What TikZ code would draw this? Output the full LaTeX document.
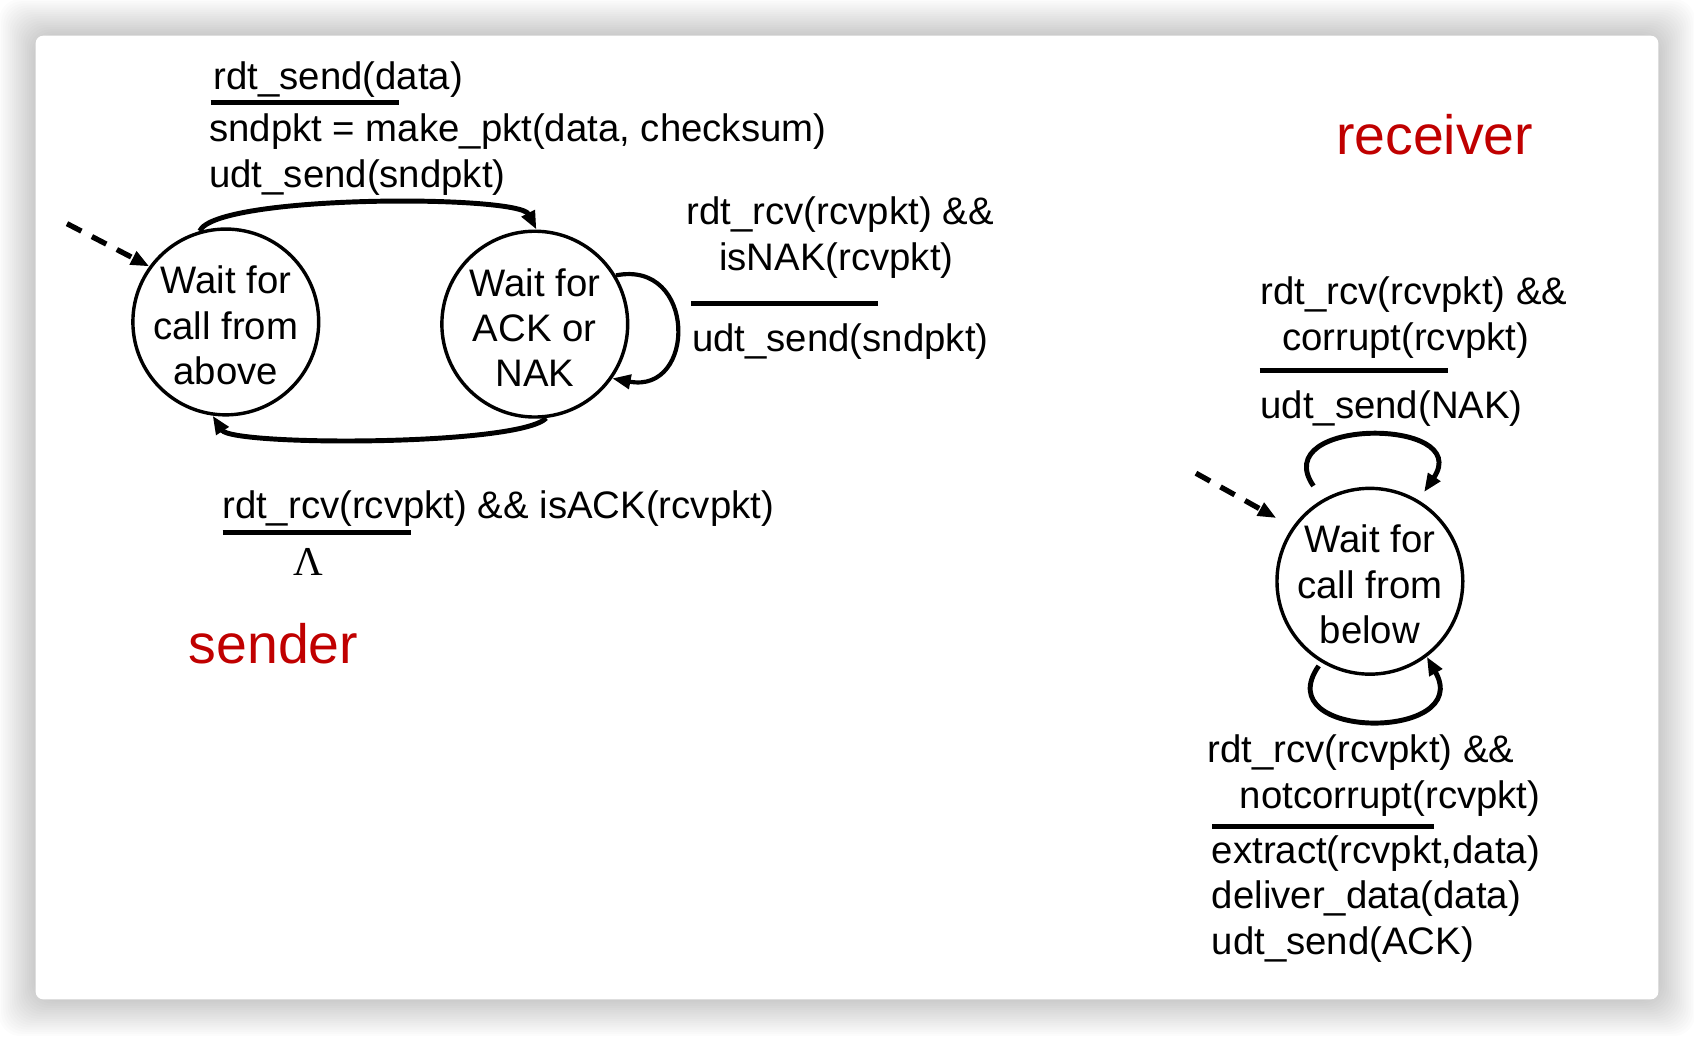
\documentclass[tikz,border=0pt]{standalone}
\usepackage{fontspec}
\setmainfont{Liberation Sans}
\newfontfamily\lamfont{Liberation Serif}
\usetikzlibrary{arrows.meta,positioning}
\definecolor{tagred}{HTML}{C00000}

\begin{document}
\begin{tikzpicture}[
  x=0.1mm, y=-0.1mm,
  font={\fontsize{10.1}{11.95}\selectfont},
  state/.style={circle, draw, line width=0.9pt, minimum size=17.2mm,
                inner sep=-2mm, align=center},
  lbl/.style={anchor=west, inner sep=0pt, align=left, yshift=-0.4mm},
  tag/.style={anchor=west, inner sep=0pt, text=tagred,
              font={\fontsize{14.6}{17}\selectfont}},
  bar/.style={line width=1.4pt},
  arr/.style={-{Triangle[length=1.7mm,width=1.3mm]}, line width=1.3pt},
  init/.style={-{Triangle[length=1.7mm,width=1.3mm]}, line width=1.4pt,
               dash pattern=on 1.5mm off 1.1mm}]
  \useasboundingbox (0,0) rectangle (1568,959);
  \fill[white] (0,0) rectangle (1568,959);
  \foreach \k in {1,...,17}
    \fill[black, opacity=0.012, rounded corners=2mm]
      (33-2*\k,33-2*\k) rectangle (1535+2*\k,925+2*\k);
  \fill[white, rounded corners=0.7mm] (33,33) rectangle (1535,925);
  \node[state] (above) at (209,298) {\rule{0pt}{3.2mm}Wait for\\call from\\above};
  \node[state] (acknak) at (495,300) {\rule{0pt}{3.2mm}Wait for\\ACK or\\NAK};
  \node[state] (below) at (1268,538) {\rule{0pt}{3.2mm}Wait for\\call from\\below};
  \node[lbl] (sndev) at (197,70) {rdt\_send(data)};
  \draw[bar] (195,95) -- (369,95);
  \node[lbl] (sndact) at (193,139) {sndpkt = make\_pkt(data, checksum)\\udt\_send(sndpkt)};
  \node[lbl] (nakev) at (635,216) {rdt\_rcv(rcvpkt) \&\&\\\hspace*{3mm}isNAK(rcvpkt)};
  \draw[bar] (640,281) -- (813,281);
  \node[lbl] (nakact) at (640,312) {udt\_send(sndpkt)};
  \node[lbl] (ackev) at (205,467) {rdt\_rcv(rcvpkt) \&\& isACK(rcvpkt)};
  \draw[bar] (206,493) -- (380,493);
  \node[inner sep=0pt, font={\fontsize{10.8}{12}\lamfont}] (ackact) at (285,520) {Λ};
  \node[tag] (sender) at (174,596) {sender};
  \node[tag] (receiver) at (1236,125) {receiver};
  \node[lbl] (corev) at (1166,290) {rdt\_rcv(rcvpkt) \&\&\\\hspace*{2mm}corrupt(rcvpkt)};
  \draw[bar] (1166,343) -- (1340,343);
  \node[lbl] (coract) at (1166,374) {udt\_send(NAK)};
  \node[lbl] (okev) at (1117,714) {rdt\_rcv(rcvpkt) \&\&\\\hspace*{3mm}notcorrupt(rcvpkt)};
  \draw[bar] (1122,765) -- (1327,765);
  \node[lbl] (okact) at (1121,828) {extract(rcvpkt,data)\\deliver\_data(data)\\udt\_send(ACK)};
  \coordinate (startS) at (62,207);
  \coordinate (startR) at (1107,438);
  \draw[init] (startS) -- (above.144);
  \draw[init, shorten >=1.7mm] (startR) -- (below.145);
  \draw[arr] (above.106) .. controls (200,180) and (480,180) .. (acknak.89);
  \draw[arr] (acknak.-83) .. controls (480,413) and (215,413) .. (above.-98);
  \draw[arr, line width=1.1pt] (acknak.31) .. controls (645,240) and (645,365) .. (acknak.-35);
  \draw[arr, shorten <=1.5mm, shorten >=0.9mm] (below.120) .. controls (1172,386) and (1365,386) .. (below.59);
  \draw[arr, shorten <=0.4mm] (below.-121) .. controls (1172,686) and (1365,686) .. (below.-53);
\end{tikzpicture}
\end{document}
